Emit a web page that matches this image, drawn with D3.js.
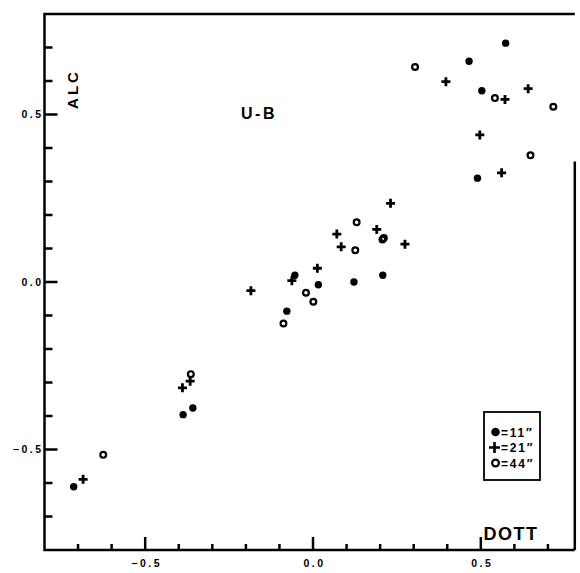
<!DOCTYPE html>
<html>
<head>
<meta charset="utf-8">
<script src="https://cdn.jsdelivr.net/npm/d3@7"></script>
<style>
  body { margin: 0; background: #fff; }
  text { font-family: "Liberation Sans", Arial, sans-serif; font-weight: bold; fill: #000; }
</style>
</head>
<body>
<script>
// data (DOTT on x, ALC on y)
const dots11 = [
  [0.574, 0.713], [0.465, 0.659], [0.503, 0.571], [0.490, 0.310],
  [-0.054, 0.020], [0.016, -0.008], [0.122, 0.000], [0.208, 0.020],
  [-0.078, -0.087], [-0.358, -0.376], [-0.387, -0.396], [-0.713, -0.611]
];
const plus21 = [
  [0.396, 0.598], [0.572, 0.545], [0.641, 0.577], [0.497, 0.439],
  [0.562, 0.326], [0.231, 0.235], [0.071, 0.143], [0.190, 0.157],
  [0.274, 0.113], [0.084, 0.105], [0.013, 0.041], [-0.063, 0.004],
  [-0.185, -0.026], [-0.366, -0.296], [-0.389, -0.316], [-0.685, -0.589]
];
const open44 = [
  [0.304, 0.642], [0.542, 0.549], [0.716, 0.523], [0.648, 0.378],
  [0.130, 0.178], [0.207, 0.127], [0.211, 0.131], [0.126, 0.095],
  [-0.021, -0.032], [0.001, -0.059], [-0.088, -0.124], [-0.364, -0.275],
  [-0.625, -0.516]
];
const minorTicks = [-0.7, -0.6, -0.4, -0.3, -0.2, -0.1, 0.1, 0.2, 0.3, 0.4, 0.6, 0.7];
const majorTicks = [-0.5, 0, 0.5];
const legendLabels = ["=11\u2033", "=21\u2033", "=44\u2033"];

let svg = null;
let x, y = null;

const width = 580, height = 573;

setupScales();
appendSvg("body");
appendFrame();
appendTicks();
appendPoints();
appendLabels();
appendLegend();

function setupScales() {
  x = d3.scaleLinear().domain([-0.8, 0.8]).range([44.5, 581.5]);
  y = d3.scaleLinear().domain([-0.8, 0.8]).range([550, 14]);
}

function appendSvg(domElement) {
  svg = d3.select(domElement).append("svg")
    .attr("width", width)
    .attr("height", height);
}

function appendFrame() {
  const right = x(0.78);
  // left, bottom and top borders
  svg.append("path")
    .attr("d", "M" + right + "," + y(0.8) + "H" + x(-0.8) + "V" + y(-0.8) + "H" + right)
    .attr("fill", "none").attr("stroke", "#000").attr("stroke-width", 2.5);
  // right border (only the lower part shows in the scan)
  svg.append("line")
    .attr("x1", right).attr("x2", right)
    .attr("y1", y(0.36)).attr("y2", y(-0.8))
    .attr("stroke", "#000").attr("stroke-width", 2.5);
}

function appendTicks() {
  const x0 = x(-0.8), y0 = y(-0.8);
  const ticks = svg.append("g").attr("stroke", "#000").attr("stroke-width", 2.5);

  // y ticks point right, into the plot
  ticks.selectAll(".ytick")
    .data(minorTicks.map(v => [v, 8]).concat(majorTicks.map(v => [v, 13])))
    .enter().append("line")
    .attr("x1", x0).attr("x2", d => x0 + d[1])
    .attr("y1", d => y(d[0])).attr("y2", d => y(d[0]));

  // x ticks point up, into the plot
  ticks.selectAll(".xtick")
    .data(minorTicks.map(v => [v, 6]).concat(majorTicks.map(v => [v, 13])))
    .enter().append("line")
    .attr("x1", d => x(d[0])).attr("x2", d => x(d[0]))
    .attr("y1", y0).attr("y2", d => y0 - d[1]);

  const fmt = d3.format(".1f");
  svg.selectAll(".ylabel")
    .data(majorTicks).enter().append("text")
    .attr("x", x0 - 1).attr("y", d => y(d)).attr("dy", "0.38em")
    .attr("text-anchor", "end")
    .style("font-size", "10.5px").style("letter-spacing", "2.5px")
    .text(fmt);

  svg.selectAll(".xlabel")
    .data(majorTicks).enter().append("text")
    .attr("x", d => x(d) + 1.5).attr("y", y0 + 17)
    .attr("text-anchor", "middle")
    .style("font-size", "10.5px").style("letter-spacing", "2.5px")
    .text(fmt);
}

function appendPoints() {
  svg.append("g").selectAll("circle")
    .data(dots11).enter().append("circle")
    .attr("cx", d => x(d[0])).attr("cy", d => y(d[1]))
    .attr("r", 3.7).attr("fill", "#000");

  svg.append("g").selectAll("path")
    .data(plus21).enter().append("path")
    .attr("d", d => "M" + (x(d[0]) - 4.5) + "," + y(d[1]) + "h9M" + x(d[0]) + "," + (y(d[1]) - 4.5) + "v9")
    .attr("stroke", "#000").attr("stroke-width", 2.8);

  svg.append("g").selectAll("circle")
    .data(open44).enter().append("circle")
    .attr("cx", d => x(d[0])).attr("cy", d => y(d[1]))
    .attr("r", 2.9).attr("fill", "none")
    .attr("stroke", "#000").attr("stroke-width", 2.2);
}

function appendLabels() {
  svg.append("text")
    .attr("transform", "translate(78,89) rotate(-90)")
    .attr("text-anchor", "middle")
    .style("font-size", "15px").style("letter-spacing", "3px")
    .text("ALC");

  svg.append("text")
    .attr("x", 259).attr("y", 119)
    .attr("text-anchor", "middle")
    .style("font-size", "16px").style("letter-spacing", "2.5px")
    .text("U-B");

  svg.append("text")
    .attr("x", 511).attr("y", 540)
    .attr("text-anchor", "middle")
    .style("font-size", "18px").style("letter-spacing", "1.5px")
    .text("DOTT");
}

function appendLegend() {
  svg.append("rect")
    .attr("x", 484).attr("y", 412)
    .attr("width", 56).attr("height", 68)
    .attr("fill", "none").attr("stroke", "#000").attr("stroke-width", 1.8);

  const rows = svg.selectAll(".legend")
    .data(legendLabels).enter().append("g")
    .attr("class", "legend")
    .attr("transform", (d, i) => "translate(0," + (432 + i * 15.5) + ")");

  rows.each(function(d, i) {
    const g = d3.select(this);
    if (i === 0) {
      g.append("circle").attr("cx", 495.5).attr("cy", 0).attr("r", 4.3).attr("fill", "#000");
    } else if (i === 1) {
      g.append("path").attr("d", "M489,0h11M494.5,-5.5v11")
        .attr("stroke", "#000").attr("stroke-width", 2.6);
    } else {
      g.append("circle").attr("cx", 495.5).attr("cy", 0).attr("r", 3.4)
        .attr("fill", "none").attr("stroke", "#000").attr("stroke-width", 2.2);
    }
  });

  rows.append("text")
    .attr("x", 501).attr("y", 0).attr("dy", "0.38em")
    .style("font-size", "12px").style("letter-spacing", "1.8px")
    .text(d => d);
}
</script>
</body>
</html>
